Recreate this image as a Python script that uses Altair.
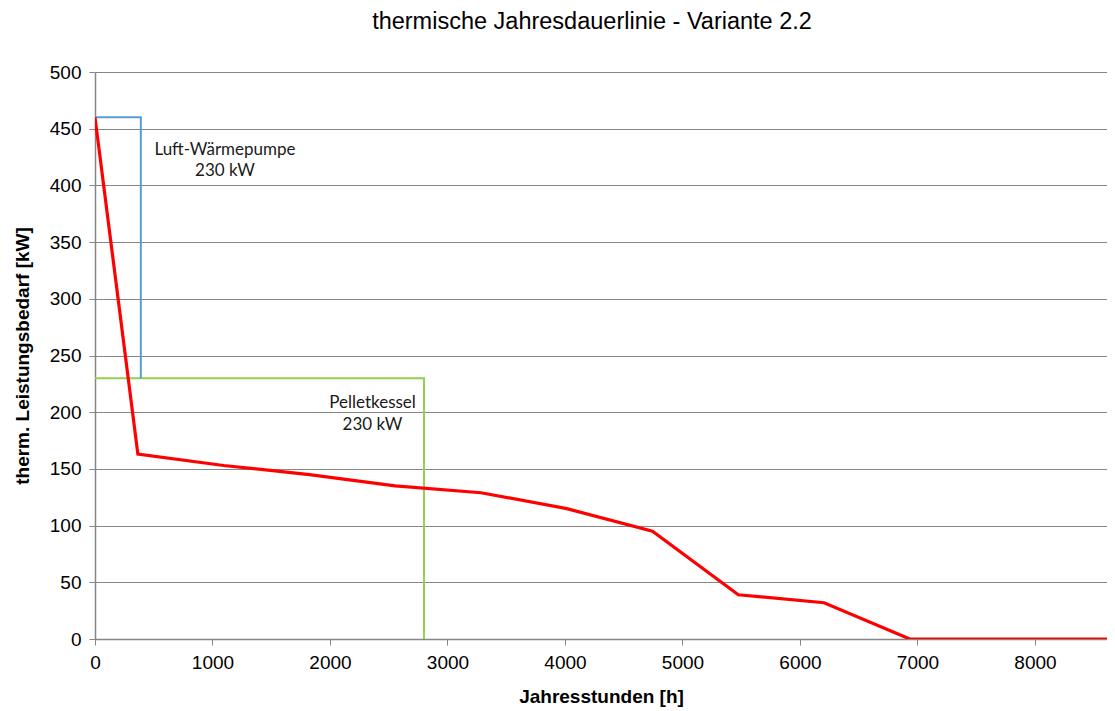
import altair as alt
import pandas as pd

# Jahresdauerlinie (red)
hours = [0, 365, 1095, 1825, 2555, 3285, 4015, 4745, 5475, 6205, 6935, 8760]
demand = [460, 163, 153, 145, 135, 129, 115, 95, 39, 32, 0, 0]

# Luft-Wärmepumpe band (blue)
wp_hours = [0, 390, 390]
wp_kw = [460, 460, 230]

# Pelletkessel band (green)
pk_hours = [0, 2800, 2800]
pk_kw = [230, 230, 0]

# annotations
label_text = ["Luft-Wärmepumpe", "230 kW", "Pelletkessel", "230 kW"]
label_h = [1106, 1106, 2362, 2362]
label_kw = [431, 413, 208, 189]

x_ticks = [0, 1000, 2000, 3000, 4000, 5000, 6000, 7000, 8000]
y_ticks = [0, 50, 100, 150, 200, 250, 300, 350, 400, 450, 500]

df_line = pd.DataFrame({"h": hours, "kw": demand, "i": range(len(hours))})
df_wp = pd.DataFrame({"h": wp_hours, "kw": wp_kw, "i": range(len(wp_hours))})
df_pk = pd.DataFrame({"h": pk_hours, "kw": pk_kw, "i": range(len(pk_hours))})
df_lab = pd.DataFrame({"h": label_h, "kw": label_kw, "t": label_text})

xs = alt.Scale(domain=[0, 8613], nice=False, zero=False)
ys = alt.Scale(domain=[0, 500], nice=False)

x_enc = alt.X("h:Q", scale=xs, axis=alt.Axis(values=x_ticks, title="Jahresstunden [h]", grid=False,
                                              format="d", labelPadding=8, titlePadding=15,
                                              labelFlush=False))
y_enc = alt.Y("kw:Q", scale=ys, axis=alt.Axis(values=y_ticks, title="therm. Leistungsbedarf [kW]",
                                               grid=True, labelPadding=8, titlePadding=17))

green = alt.Chart(df_pk).mark_line(color="#92D050", strokeWidth=2, clip=True).encode(
    x=x_enc, y=y_enc, order="i:Q")
blue = alt.Chart(df_wp).mark_line(color="#5B9BD5", strokeWidth=2, clip=True).encode(
    x=x_enc, y=y_enc, order="i:Q")
red = alt.Chart(df_line).mark_line(color="#FF0000", strokeWidth=3.2, clip=True).encode(
    x=x_enc, y=y_enc, order="i:Q")
labels = alt.Chart(df_lab).mark_text(font="Lato", fontSize=17, color="#1a1a1a",
                                     align="center", baseline="middle").encode(
    x=alt.X("h:Q", scale=xs), y=alt.Y("kw:Q", scale=ys), text="t:N")

chart = alt.layer(green, blue, red, labels).properties(
    width=1012, height=567,
    title=alt.TitleParams("thermische Jahresdauerlinie - Variante 2.2", dx=-9, offset=30),
    autosize=alt.AutoSizeParams(type="none"),
    padding={"left": 87, "top": 64, "right": 0, "bottom": 72},
).configure_view(stroke=None).configure_axis(
    labelFont="Liberation Sans", labelFontSize=19, labelColor="#000000",
    titleFont="Liberation Sans", titleFontSize=19, titleFontWeight="bold", titleColor="#000000",
    domainColor="#868686", domainWidth=1.5, tickColor="#868686", tickSize=6,
    gridColor="#868686", gridWidth=1, gridOpacity=1,
).configure_title(
    font="Liberation Sans", fontSize=23.5, fontWeight="normal", color="#000000", anchor="middle"
)

chart.save("out.html", embed_options={"renderer": "svg", "actions": False})
